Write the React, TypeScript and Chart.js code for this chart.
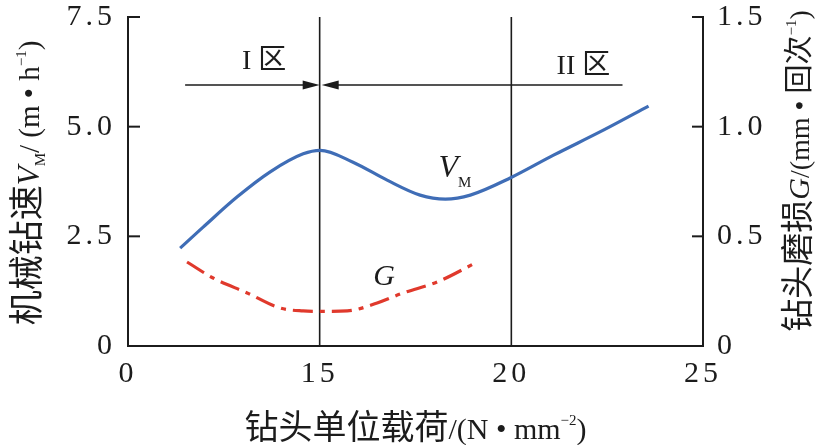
import { useEffect, useRef } from "react";
import { Chart, registerables } from "chart.js";

Chart.register(...registerables);

// ---- data ----
const xTicks = [10, 15, 20, 25];
const xTickLabels = ["0", "15", "20", "25"];
const vmX = [11.36, 11.96, 12.85, 13.71, 14.57, 15.01, 15.87, 16.76, 17.62, 18.28, 18.93, 19.97, 21.1, 22.4, 23.58];
const vmY = [2.23, 2.71, 3.4, 3.97, 4.38, 4.46, 4.19, 3.78, 3.44, 3.35, 3.44, 3.83, 4.35, 4.92, 5.47];
const gX = [11.54, 12.22, 13.11, 13.97, 14.57, 15.07, 15.72, 16.5, 17.18, 18.07, 19.11];
const gY = [0.383, 0.31, 0.242, 0.173, 0.16, 0.158, 0.16, 0.196, 0.242, 0.292, 0.383];
const zoneBounds = [15, 20];
const arrowY = 5.95;
const zone1Start = 11.49;
const zone2End = 22.9;
const zoneLabels = ["I ", "II "];
const zoneLabelX = [13.55, 21.88];
const zoneLabelY = [6.55, 6.43];
const vmLabelPos = [18.1, 3.85];
const gLabelPos = [16.4, 0.278];

const SERIF = "'Liberation Serif', 'DejaVu Serif', serif";
const CJK = "'Noto Sans CJK SC', 'Noto Sans CJK JP', sans-serif";
const INK = "#1c1c1c";

type Seg = { t: string; f: string; dy?: number };

function drawRich(ctx: CanvasRenderingContext2D, segs: Seg[], cx: number, cy: number, rot: boolean, align: "center" | "left" = "center") {
  ctx.save();
  ctx.letterSpacing = "0px";
  ctx.translate(cx, cy);
  if (rot) ctx.rotate(-Math.PI / 2);
  ctx.textBaseline = "alphabetic";
  ctx.textAlign = "left";
  ctx.fillStyle = INK;
  let total = 0;
  for (const s of segs) {
    ctx.font = s.f;
    total += ctx.measureText(s.t).width;
  }
  let x = align === "center" ? -total / 2 : 0;
  for (const s of segs) {
    ctx.font = s.f;
    ctx.fillText(s.t, x, s.dy ?? 0);
    x += ctx.measureText(s.t).width;
  }
  ctx.restore();
}

const decor = {
  id: "decor",
  beforeDraw(chart: any) {
    chart.ctx.letterSpacing = "4px";
  },
  beforeDatasetsDraw(chart: any) {
    const { ctx, chartArea, scales } = chart;
    ctx.save();
    ctx.strokeStyle = INK;
    ctx.lineWidth = 1.6;
    for (const b of zoneBounds) {
      const px = scales.x.getPixelForValue(b);
      ctx.beginPath();
      ctx.moveTo(px, chartArea.top);
      ctx.lineTo(px, chartArea.bottom);
      ctx.stroke();
    }
    ctx.restore();
  },
  afterDraw(chart: any) {
    const { ctx, chartArea, scales } = chart;
    const x = scales.x, y = scales.y, y1 = scales.y1;
    ctx.save();
    ctx.letterSpacing = "0px";
    ctx.strokeStyle = INK;
    ctx.fillStyle = INK;
    // inward ticks
    ctx.lineWidth = 2;
    for (const t of y.ticks) {
      const py = y.getPixelForValue(t.value);
      ctx.beginPath();
      ctx.moveTo(chartArea.left, py);
      ctx.lineTo(chartArea.left + 12, py);
      ctx.stroke();
    }
    for (const t of y1.ticks) {
      const py = y1.getPixelForValue(t.value);
      ctx.beginPath();
      ctx.moveTo(chartArea.right, py);
      ctx.lineTo(chartArea.right - 11, py);
      ctx.stroke();
    }
    // arrows
    const ay = y.getPixelForValue(arrowY);
    const mid = x.getPixelForValue(zoneBounds[0]);
    const a1 = x.getPixelForValue(zone1Start);
    const a2 = x.getPixelForValue(zone2End);
    ctx.lineWidth = 1.6;
    ctx.beginPath();
    ctx.moveTo(a1, ay);
    ctx.lineTo(mid - 10, ay);
    ctx.moveTo(mid + 10, ay);
    ctx.lineTo(a2, ay);
    ctx.stroke();
    ctx.beginPath();
    ctx.moveTo(mid, ay);
    ctx.lineTo(mid - 17, ay - 4.5);
    ctx.lineTo(mid - 17, ay + 4.5);
    ctx.closePath();
    ctx.fill();
    ctx.beginPath();
    ctx.moveTo(mid + 2, ay);
    ctx.lineTo(mid + 19, ay - 4.5);
    ctx.lineTo(mid + 19, ay + 4.5);
    ctx.closePath();
    ctx.fill();
    ctx.restore();

    // zone labels
    for (let i = 0; i < zoneLabels.length; i++) {
      const px = x.getPixelForValue(zoneLabelX[i]);
      const py = y.getPixelForValue(zoneLabelY[i]);
      drawRich(ctx, [
        { t: zoneLabels[i], f: `28px ${SERIF}` },
        { t: "区", f: `28px ${CJK}` },
      ], px, py + 10, false);
    }
    // curve labels
    {
      const px = x.getPixelForValue(vmLabelPos[0]);
      const py = y.getPixelForValue(vmLabelPos[1]);
      drawRich(ctx, [
        { t: "V", f: `italic 32px ${SERIF}` },
        { t: "M", f: `15px ${SERIF}`, dy: 10 },
      ], px, py, false, "left");
    }
    {
      const px = x.getPixelForValue(gLabelPos[0]);
      const py = y1.getPixelForValue(gLabelPos[1]);
      drawRich(ctx, [{ t: "G", f: `italic 30px ${SERIF}` }], px, py, false, "left");
    }
    // axis titles
    const main = `29px ${SERIF}`;
    const sup = `15px ${SERIF}`;
    drawRich(ctx, [
      { t: "钻头单位载荷", f: `34px ${CJK}` },
      { t: "/(N • mm", f: `30px ${SERIF}` },
      { t: "−2", f: sup, dy: -14 },
      { t: ")", f: `30px ${SERIF}` },
    ], (chartArea.left + chartArea.right) / 2, 439, false);
    drawRich(ctx, [
      { t: "机械钻速", f: `35px ${CJK}` },
      { t: "V", f: `italic 31px ${SERIF}` },
      { t: "M", f: sup, dy: 6 },
      { t: "/ (m • h", f: main },
      { t: "−1", f: sup, dy: -13 },
      { t: ")", f: main },
    ], 39, 183, true);
    drawRich(ctx, [
      { t: "钻头磨损", f: `33px ${CJK}` },
      { t: "G", f: `italic 30px ${SERIF}` },
      { t: "/(mm • ", f: `28px ${SERIF}` },
      { t: "回次", f: `29px ${CJK}` },
      { t: "−1", f: sup, dy: -13 },
      { t: ")", f: `28px ${SERIF}` },
    ], 809, 171, true);
  },
};

export default function App() {
  const ref = useRef<HTMLCanvasElement | null>(null);
  useEffect(() => {
    if (!ref.current) return;
    const tickFont = { family: SERIF, size: 30 };
    const chart = new Chart(ref.current, {
      type: "line",
      data: {
        datasets: [
          {
            label: "VM",
            data: vmX.map((v, i) => ({ x: v, y: vmY[i] })),
            borderColor: "#3f6db6",
            borderWidth: 3.2,
            pointRadius: 0,
            cubicInterpolationMode: "monotone",
            yAxisID: "y",
            fill: false,
          },
          {
            label: "G",
            data: gX.map((v, i) => ({ x: v, y: gY[i] })),
            borderColor: "#e0392c",
            borderWidth: 3.2,
            borderDash: [20, 7, 5, 7],
            pointRadius: 0,
            cubicInterpolationMode: "monotone",
            yAxisID: "y1",
            fill: false,
          },
        ],
      },
      options: {
        animation: false,
        responsive: true,
        maintainAspectRatio: false,
        layout: { padding: { top: 17, left: 0, right: 0, bottom: 0 } },
        plugins: { legend: { display: false }, tooltip: { enabled: false } },
        scales: {
          x: {
            type: "linear",
            min: 10,
            max: 25,
            afterBuildTicks: (s: any) => {
              s.ticks = xTicks.map((v) => ({ value: v }));
            },
            afterFit: (s: any) => {
              s.height = 99;
              s.paddingLeft = 0;
              s.paddingRight = 0;
            },
            ticks: {
              callback: (v: any) => {
                const i = xTicks.indexOf(Number(v));
                return i >= 0 ? xTickLabels[i] : "";
              },
              font: tickFont,
              color: INK,
              padding: 10,
              maxRotation: 0,
            },
            grid: { display: true, drawOnChartArea: false, drawTicks: false },
            border: { display: true, color: INK, width: 2 },
          },
          y: {
            position: "left",
            min: 0,
            max: 7.5,
            ticks: {
              stepSize: 2.5,
              callback: (v: any) => (Number(v) === 0 ? "0" : Number(v).toFixed(1)),
              font: tickFont,
              color: INK,
              padding: 12,
            },
            afterFit: (s: any) => {
              s.width = 128;
              s.paddingTop = 0;
              s.paddingBottom = 0;
            },
            grid: { display: true, drawOnChartArea: false, drawTicks: false },
            border: { display: true, color: INK, width: 2 },
          },
          y1: {
            position: "right",
            min: 0,
            max: 1.5,
            ticks: {
              stepSize: 0.5,
              callback: (v: any) => (Number(v) === 0 ? "0" : Number(v).toFixed(1)),
              font: tickFont,
              color: INK,
              padding: 14,
            },
            afterFit: (s: any) => {
              s.width = 123;
              s.paddingTop = 0;
              s.paddingBottom = 0;
            },
            grid: { display: true, drawOnChartArea: false, drawTicks: false },
            border: { display: true, color: INK, width: 2 },
          },
        },
      },
      plugins: [decor],
    } as any);
    return () => chart.destroy();
  }, []);
  return (
    <div style={{ position: "fixed", left: 0, top: 0, width: 826, height: 445, background: "#fff" }}>
      <canvas ref={ref} />
    </div>
  );
}
